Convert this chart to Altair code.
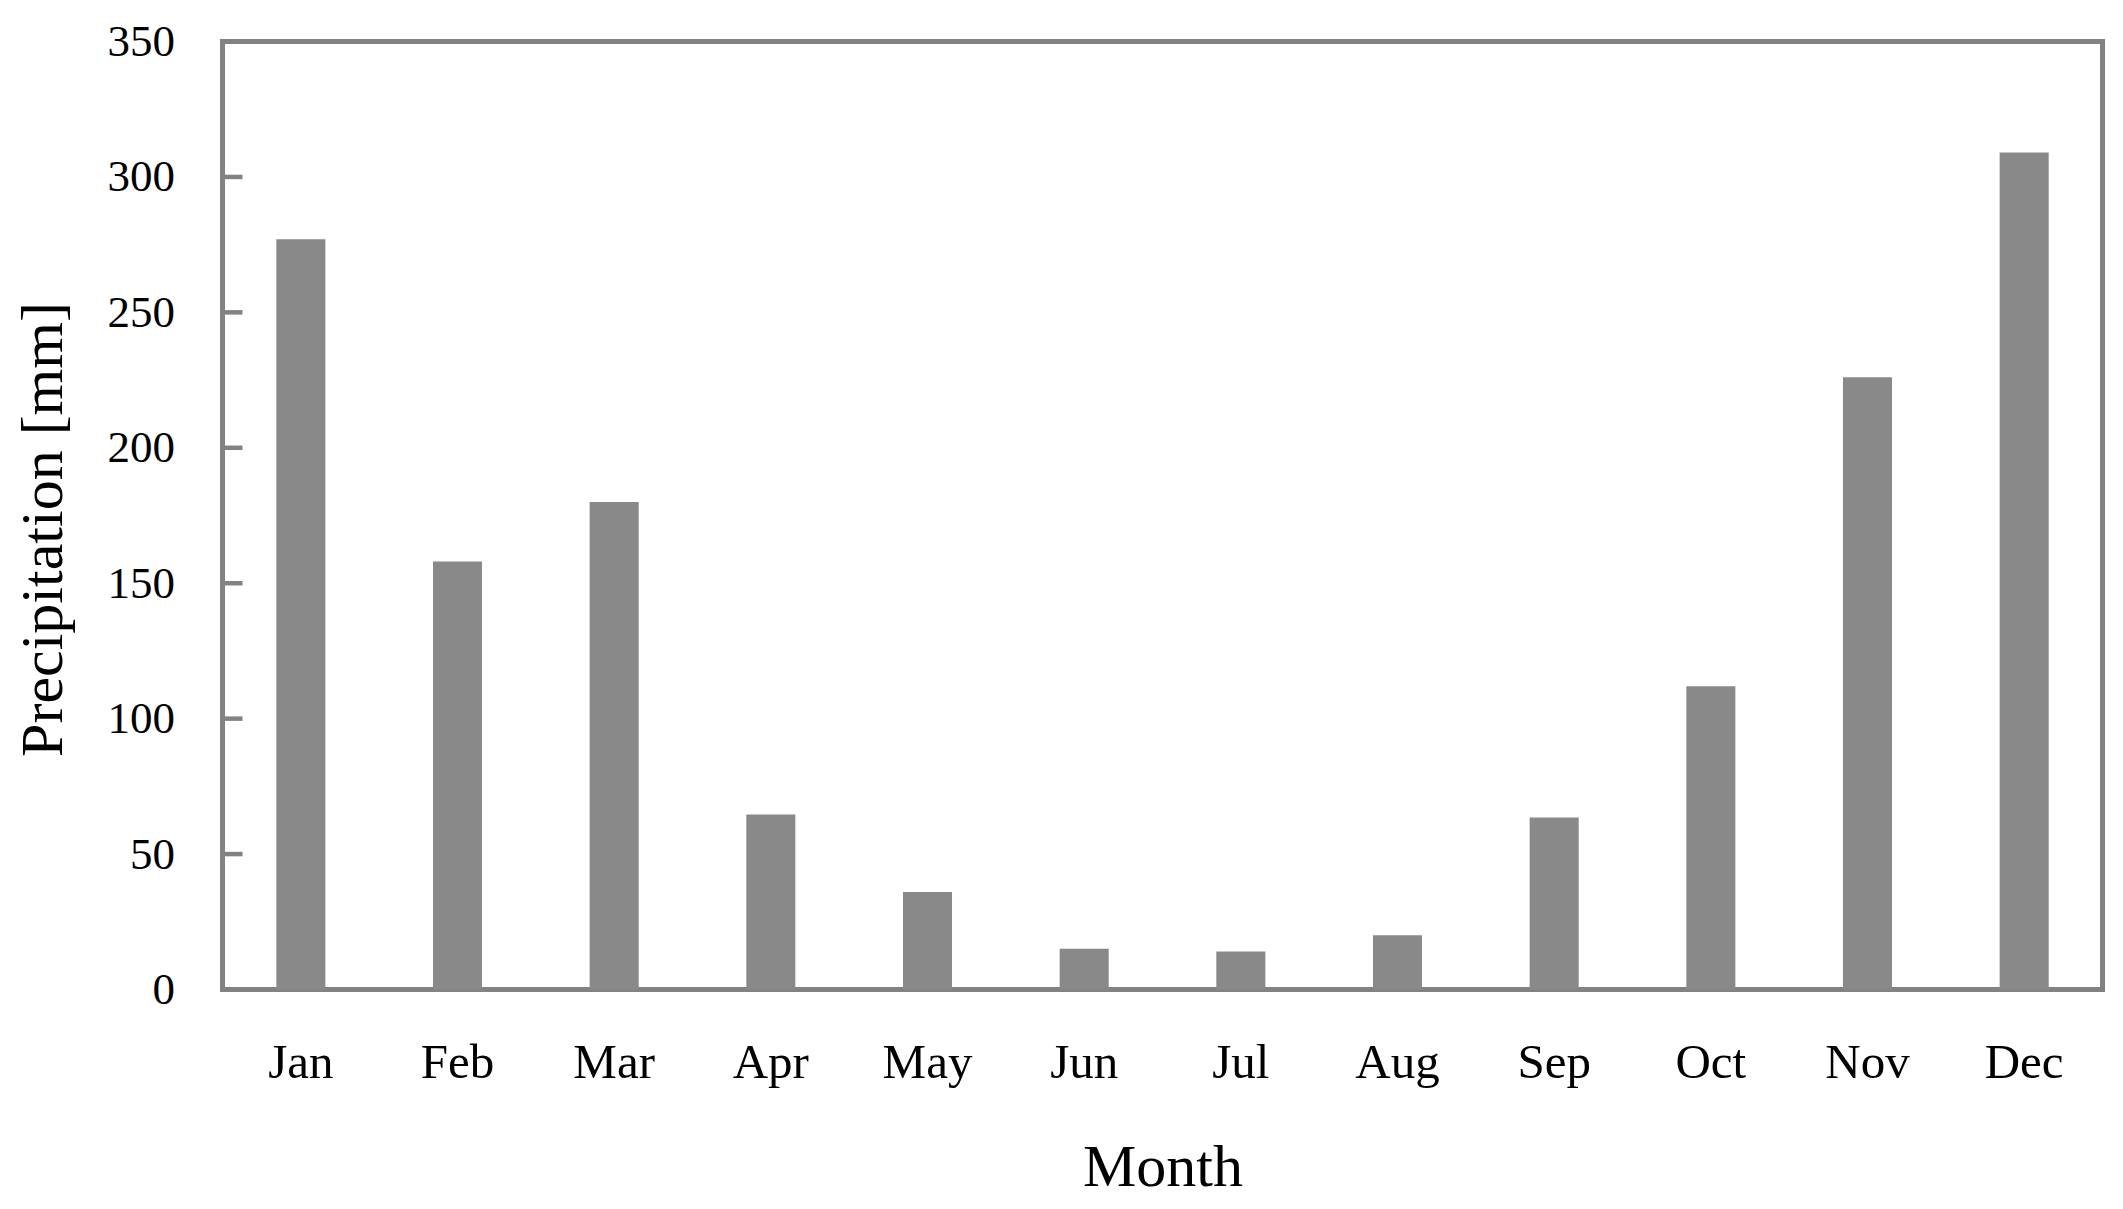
import altair as alt
import pandas as pd

months = ["Jan", "Feb", "Mar", "Apr", "May", "Jun", "Jul", "Aug", "Sep", "Oct", "Nov", "Dec"]
precip = [277, 158, 180, 64.6, 36, 15, 14, 20, 63.5, 112, 226, 309]
y_ticks = [0, 50, 100, 150, 200, 250, 300, 350]

FONT = "Liberation Serif"
GRAY_FRAME = "#828282"
GRAY_BAR = "#898989"

df = pd.DataFrame({"Month": months, "Precipitation": precip})
ticks_df = pd.DataFrame({"Precipitation": y_ticks})

yscale = alt.Scale(domain=[0, 350], nice=False, zero=True)

y_axis = alt.Axis(
    title="Precipitation [mm]",
    values=y_ticks,
    ticks=False,
    tickSize=0,
    domain=False,
    grid=False,
    labelFont=FONT,
    labelFontSize=45,
    labelColor="black",
    labelPadding=48,
    titleFont=FONT,
    titleFontSize=60,
    titleFontWeight="normal",
    titleColor="black",
    titleAngle=270,
    titleBaseline="alphabetic",
    titleAlign="center",
    titleX=-161,
    titleY=487.5,
)

bars = alt.Chart(df).mark_bar(color=GRAY_BAR).encode(
    x=alt.X(
        "Month:N",
        sort=months,
        scale=alt.Scale(paddingInner=0.687, paddingOuter=0.3435),
        axis=alt.Axis(
            title="Month",
            labelAngle=0,
            ticks=False,
            tickSize=0,
            domain=False,
            grid=False,
            labelFont=FONT,
            labelFontSize=49,
            labelColor="black",
            labelBaseline="alphabetic",
            labelPadding=87.5,
            titleFont=FONT,
            titleFontSize=60,
            titleFontWeight="normal",
            titleColor="black",
            titleBaseline="alphabetic",
            titleY=195.5,
        ),
    ),
    y=alt.Y("Precipitation:Q", scale=yscale, axis=y_axis),
)

tick_marks = alt.Chart(ticks_df).mark_rule(color=GRAY_FRAME, strokeWidth=4.5).encode(
    y=alt.Y("Precipitation:Q", scale=yscale, axis=y_axis),
    x=alt.value(0),
    x2=alt.value(20),
)

chart = alt.layer(bars, tick_marks).properties(
    width=1880,
    height=948,
    background="white",
    autosize=alt.AutoSizeParams(type="none"),
    padding={"left": 214.5, "top": 33.5, "right": 12, "bottom": 210},
).configure_view(
    stroke=GRAY_FRAME,
    strokeWidth=5,
)

chart.save("out.html", embed_options={"renderer": "svg", "actions": False})
